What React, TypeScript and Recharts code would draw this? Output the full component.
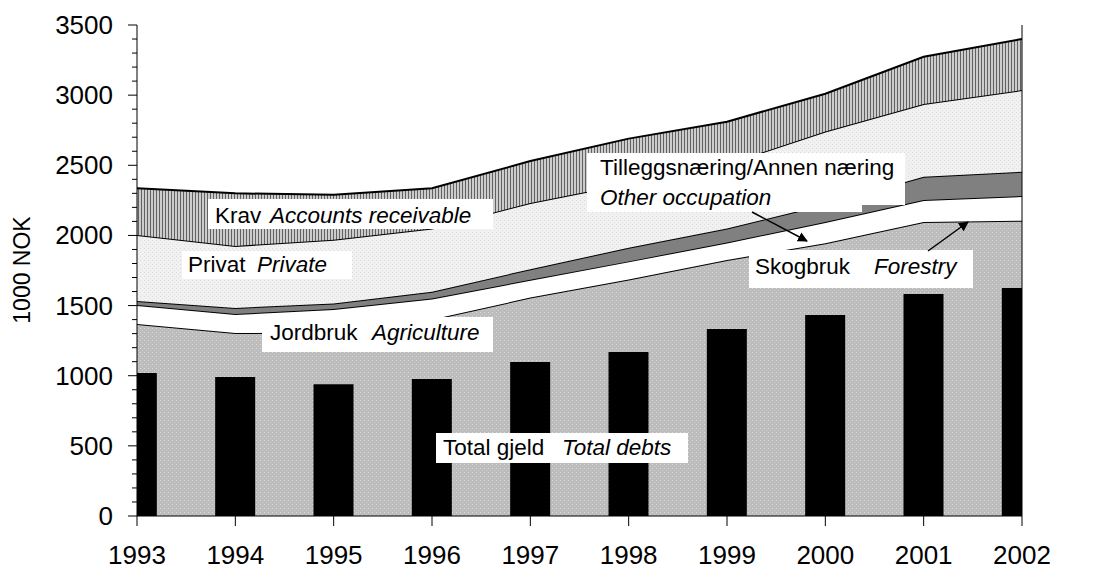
import React from "react";
import { ComposedChart, Area, Bar, XAxis, YAxis } from "recharts";

const years = [1993, 1994, 1995, 1996, 1997, 1998, 1999, 2000, 2001, 2002];
// stacked layers, 1000 NOK
const jordbruk = [1368, 1304, 1310, 1400, 1557, 1686, 1825, 1945, 2095, 2105];
const skogbruk = [136, 136, 165, 150, 127, 129, 125, 150, 157, 176];
const tillegg = [28, 43, 40, 49, 75, 97, 100, 125, 166, 173];
const privat = [471, 442, 455, 451, 472, 458, 460, 520, 519, 582];
const krav = [333, 375, 320, 286, 299, 320, 301, 270, 337, 364];
// bars
const totalGjeld = [1020, 990, 940, 976, 1098, 1169, 1333, 1433, 1582, 1625];

const yTicks = Array.from({ length: 36 }, (_, i) => i * 100);

const data = years.map((year, i) => ({
  year,
  jordbruk: jordbruk[i],
  skogbruk: skogbruk[i],
  tillegg: tillegg[i],
  privat: privat[i],
  krav: krav[i],
  total: totalGjeld[i],
}));

const FONT = '"Liberation Sans", Arial, sans-serif';

function LeftTick({ x, y, payload }: any) {
  const major = payload.value % 500 === 0;
  return (
    <g>
      <line x1={x - (major ? 9 : 5)} x2={x} y1={y} y2={y} stroke="#000" strokeWidth={1} />
      {major && (
        <text x={x - 24} y={y} textAnchor="end" dominantBaseline="central" fontSize={26} fontFamily={FONT} fill="#000">
          {payload.value}
        </text>
      )}
    </g>
  );
}

function RightTick({ x, y, payload }: any) {
  const major = payload.value % 500 === 0;
  return (
    <g>
      <line x1={x} x2={x + (major ? 9 : 5)} y1={y} y2={y} stroke="#000" strokeWidth={1} />
      {major && (
        <text x={x + 21} y={y} textAnchor="start" dominantBaseline="central" fontSize={26} fontFamily={FONT} fill="#000">
          {payload.value}
        </text>
      )}
    </g>
  );
}

function BottomTick({ x, y, payload }: any) {
  return (
    <g>
      <line x1={x} x2={x} y1={y} y2={y + 10} stroke="#000" strokeWidth={1} />
      <text x={x} y={y + 48} textAnchor="middle" fontSize={26} fontFamily={FONT} fill="#000">
        {payload.value}
      </text>
    </g>
  );
}

const labelStyle = { fontSize: 22.5, fontFamily: FONT, fill: "#000" };

function Annotations() {
  return (
    <svg width={1106} height={570} style={{ position: "absolute", left: 0, top: 0, pointerEvents: "none" }}>
      <defs>
        <marker id="arrowHead" markerWidth="10" markerHeight="10" refX="9" refY="5" orient="auto" markerUnits="userSpaceOnUse" viewBox="0 0 10 10">
          <path d="M0,0 L10,5 L0,10 z" fill="#000" />
        </marker>
      </defs>
      <text x={22} y={270} transform="rotate(-90 22 270)" textAnchor="middle" dominantBaseline="central" style={{ ...labelStyle, fontSize: 23 }}>
        1000 NOK
      </text>

      <rect x={208} y={199} width={285} height={30} fill="#fff" />
      <text x={215} y={223} style={labelStyle}>Krav</text>
      <text x={270} y={223} style={{ ...labelStyle, fontStyle: "italic" }}>Accounts receivable</text>

      <rect x={182} y={251} width={170} height={28} fill="#fff" />
      <text x={188} y={272} style={labelStyle}>Privat</text>
      <text x={257} y={272} style={{ ...labelStyle, fontStyle: "italic" }}>Private</text>

      <rect x={262} y={317} width={231} height={35} fill="#fff" />
      <text x={270} y={340} style={labelStyle}>Jordbruk</text>
      <text x={372} y={340} style={{ ...labelStyle, fontStyle: "italic" }}>Agriculture</text>

      <rect x={436} y={433} width={252} height={30} fill="#fff" />
      <text x={443} y={455} style={labelStyle}>Total gjeld</text>
      <text x={562} y={455} style={{ ...labelStyle, fontStyle: "italic" }}>Total debts</text>

      <rect x={587} y={153} width={318} height={52} fill="#fff" />
      <rect x={587} y={180} width={275} height={32} fill="#fff" />
      <text x={600} y={175} style={labelStyle}>Tilleggsnæring/Annen næring</text>
      <text x={600} y={205} style={{ ...labelStyle, fontStyle: "italic" }}>Other occupation</text>

      <rect x={749} y={250} width={224} height={38} fill="#fff" />
      <text x={755} y={274} style={labelStyle}>Skogbruk</text>
      <text x={874} y={274} style={{ ...labelStyle, fontStyle: "italic" }}>Forestry</text>

      <line x1={752} y1={212} x2={807} y2={241} stroke="#000" strokeWidth={1.5} markerEnd="url(#arrowHead)" />
      <line x1={928} y1={251} x2={968} y2={222} stroke="#000" strokeWidth={1.5} markerEnd="url(#arrowHead)" />
    </svg>
  );
}

export default function App() {
  return (
    <div style={{ position: "absolute", left: 0, top: 0, width: 1106, height: 570, background: "#fff" }}>
      <ComposedChart width={1106} height={570} data={data} margin={{ top: 25, right: 4, bottom: 14, left: 57 }}>
        <defs>
          <pattern id="patJord" width="4" height="4" patternUnits="userSpaceOnUse">
            <rect width="4" height="4" fill="#bcbcbc" />
            <rect x="0" y="0" width="1" height="1" fill="#dcdcdc" />
            <rect x="2" y="2" width="1" height="1" fill="#d0d0d0" />
          </pattern>
          <pattern id="patPrivat" width="4" height="4" patternUnits="userSpaceOnUse">
            <rect width="4" height="4" fill="#f1f1f1" />
            <rect x="0" y="0" width="1" height="1" fill="#dadada" />
            <rect x="2" y="2" width="1" height="1" fill="#e2e2e2" />
          </pattern>
          <pattern id="patKrav" width="3" height="4" patternUnits="userSpaceOnUse">
            <rect width="3" height="4" fill="#cccccc" />
            <rect x="0" y="0" width="1" height="4" fill="#626262" />
          </pattern>
        </defs>
        <XAxis
          dataKey="year"
          type="number"
          domain={[1993, 2002]}
          ticks={years}
          interval={0}
          allowDataOverflow
          height={40}
          tickSize={0}
          tickMargin={0}
          tickLine={false}
          tick={BottomTick}
          axisLine={{ stroke: "#000", strokeWidth: 1 }}
        />
        <YAxis
          yAxisId="left"
          domain={[0, 3500]}
          ticks={yTicks}
          interval={0}
          width={80}
          tickSize={0}
          tickMargin={0}
          tickLine={false}
          tick={LeftTick}
          axisLine={{ stroke: "#000", strokeWidth: 1 }}
        />
        <YAxis
          yAxisId="right"
          orientation="right"
          domain={[0, 3500]}
          ticks={yTicks}
          interval={0}
          width={80}
          tickSize={0}
          tickMargin={0}
          tickLine={false}
          tick={RightTick}
          axisLine={{ stroke: "#000", strokeWidth: 1 }}
        />
        <Area yAxisId="left" type="linear" dataKey="jordbruk" stackId="s" stroke="#000" strokeWidth={2} fill="url(#patJord)" fillOpacity={1} dot={false} activeDot={false} isAnimationActive={false} />
        <Area yAxisId="left" type="linear" dataKey="skogbruk" stackId="s" stroke="#000" strokeWidth={2} fill="#ffffff" fillOpacity={1} dot={false} activeDot={false} isAnimationActive={false} />
        <Area yAxisId="left" type="linear" dataKey="tillegg" stackId="s" stroke="#000" strokeWidth={2} fill="#808080" fillOpacity={1} dot={false} activeDot={false} isAnimationActive={false} />
        <Area yAxisId="left" type="linear" dataKey="privat" stackId="s" stroke="#000" strokeWidth={2} fill="url(#patPrivat)" fillOpacity={1} dot={false} activeDot={false} isAnimationActive={false} />
        <Area yAxisId="left" type="linear" dataKey="krav" stackId="s" stroke="#000" strokeWidth={2} fill="url(#patKrav)" fillOpacity={1} dot={false} activeDot={false} isAnimationActive={false} />
        <Bar yAxisId="left" dataKey="total" fill="#000" barSize={40} isAnimationActive={false} />
      </ComposedChart>
      <Annotations />
    </div>
  );
}
